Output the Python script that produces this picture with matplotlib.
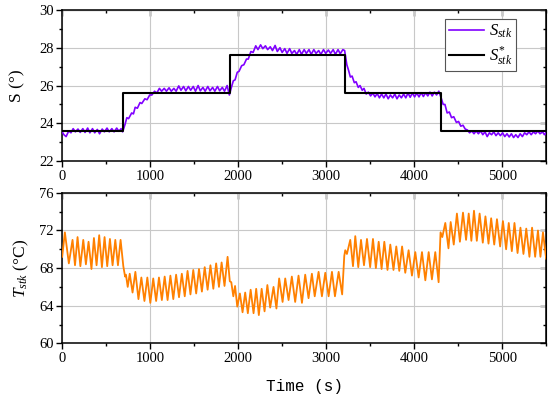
import matplotlib
matplotlib.use("Agg")
import matplotlib.pyplot as plt
from matplotlib.ticker import MultipleLocator

# S_stk response (time in s, angle in deg)
t_s = [0, 20, 45, 75, 100, 125, 150, 180, 205, 235, 260, 290, 315, 345, 370, 400,
       425, 455, 480, 510, 535, 565, 590, 620, 645, 670, 687, 715, 735, 755, 790,
       810, 830, 855, 885, 905, 940, 965, 995, 1020, 1050, 1075, 1105, 1130, 1160,
       1185, 1215, 1240, 1270, 1295, 1325, 1350, 1380, 1405, 1435, 1460, 1490, 1515,
       1545, 1570, 1600, 1625, 1655, 1680, 1710, 1735, 1765, 1790, 1820, 1845, 1875,
       1900, 1920, 1945, 1965, 1990, 2010, 2040, 2065, 2095, 2115, 2145, 2170, 2200,
       2225, 2255, 2280, 2310, 2335, 2365, 2390, 2420, 2445, 2475, 2500, 2530, 2555,
       2585, 2610, 2640, 2665, 2695, 2720, 2750, 2775, 2805, 2830, 2860, 2885, 2915,
       2940, 2970, 2995, 3025, 3050, 3080, 3105, 3135, 3160, 3190, 3210, 3235, 3255,
       3275, 3295, 3320, 3340, 3365, 3385, 3410, 3430, 3455, 3480, 3505, 3530, 3555,
       3580, 3605, 3630, 3655, 3680, 3705, 3730, 3755, 3780, 3805, 3830, 3855, 3880,
       3905, 3930, 3955, 3980, 4005, 4030, 4055, 4080, 4105, 4130, 4155, 4180, 4205,
       4230, 4255, 4280, 4310, 4330, 4350, 4375, 4400, 4425, 4450, 4480, 4505, 4530,
       4555, 4580, 4605, 4630, 4655, 4680, 4705, 4730, 4755, 4780, 4805, 4830, 4855,
       4880, 4905, 4930, 4955, 4980, 5005, 5030, 5055, 5080, 5105, 5130, 5155, 5180,
       5205, 5230, 5255, 5280, 5305, 5330, 5355, 5380, 5405, 5430, 5460, 5480, 5500]
s_stk = [23.55, 23.4, 23.3, 23.6, 23.5, 23.72, 23.55, 23.7, 23.52, 23.72, 23.52, 23.75,
         23.5, 23.72, 23.5, 23.68, 23.45, 23.7, 23.55, 23.75, 23.55, 23.72, 23.55, 23.75,
         23.58, 23.72, 23.55, 23.95, 24.3, 24.25, 24.55, 24.5, 24.85, 24.8, 25.1, 25.05,
         25.3, 25.25, 25.5, 25.5, 25.7, 25.6, 25.85, 25.7, 25.85, 25.7, 25.88, 25.7,
         25.85, 25.7, 25.98, 25.75, 25.95, 25.72, 25.95, 25.75, 25.95, 25.7, 26.0, 25.72,
         25.9, 25.7, 25.95, 25.72, 25.9, 25.7, 25.95, 25.72, 25.9, 25.7, 26.0, 25.5,
         25.85, 26.25, 26.3, 26.7, 26.75, 27.05, 27.1, 27.4, 27.4, 27.8, 27.75, 28.1,
         27.9, 28.15, 27.95, 28.1, 27.9, 28.05, 27.85, 28.12, 27.8, 28.0, 27.75, 27.95,
         27.7, 27.95, 27.7, 27.85, 27.65, 27.9, 27.65, 27.9, 27.7, 27.9, 27.65, 27.9,
         27.7, 27.85, 27.65, 27.9, 27.7, 27.88, 27.7, 27.9, 27.65, 27.9, 27.68, 27.9,
         27.85, 27.1, 26.8, 26.45, 26.5, 26.15, 26.2, 25.9, 26.0, 25.75, 25.85, 25.55,
         25.65, 25.45, 25.6, 25.4, 25.58, 25.35, 25.55, 25.35, 25.55, 25.3, 25.5, 25.35,
         25.55, 25.3, 25.5, 25.35, 25.55, 25.35, 25.6, 25.38, 25.6, 25.4, 25.6, 25.4,
         25.62, 25.42, 25.62, 25.45, 25.65, 25.45, 25.65, 25.5, 25.7, 25.3, 25.0, 25.0,
         24.55, 24.6, 24.3, 24.35, 24.05, 24.1, 23.85, 23.9, 23.7, 23.65, 23.5, 23.6,
         23.45, 23.6, 23.45, 23.6, 23.4, 23.55, 23.3, 23.5, 23.4, 23.55, 23.35, 23.5,
         23.35, 23.5, 23.3, 23.45, 23.28, 23.45, 23.25, 23.4, 23.25, 23.45, 23.3, 23.5,
         23.4, 23.55, 23.4, 23.55, 23.45, 23.6, 23.45, 23.55, 23.4, 23.5]

# set point S*_stk
t_ref = [0, 687, 1909, 3218, 4307, 5500]
s_ref = [23.6, 25.6, 27.6, 25.6, 23.6, 23.6]

# stack temperature T_stk (degC)
t_T = [0, 31, 76, 118, 146, 175, 207, 240, 270, 300, 333, 361, 391, 421, 452, 482,
       512, 543, 573, 604, 634, 664, 695, 715, 725, 745, 768, 800, 832, 867, 900, 935,
       968, 1002, 1035, 1068, 1100, 1133, 1165, 1198, 1230, 1263, 1295, 1328, 1360,
       1393, 1425, 1458, 1490, 1523, 1555, 1588, 1620, 1653, 1685, 1718, 1750, 1782,
       1812, 1845, 1880, 1905, 1922, 1945, 1965, 1990, 2020, 2050, 2080, 2110, 2142,
       2175, 2205, 2235, 2267, 2300, 2332, 2364, 2402, 2435, 2466, 2505, 2535, 2573,
       2610, 2648, 2686, 2725, 2762, 2800, 2838, 2870, 2914, 2952, 2990, 3028, 3066,
       3100, 3142, 3182, 3206, 3217, 3236, 3274, 3305, 3331, 3365, 3396, 3430, 3464,
       3500, 3532, 3565, 3597, 3630, 3661, 3697, 3729, 3765, 3797, 3831, 3863, 3899,
       3937, 3975, 4013, 4051, 4089, 4127, 4165, 4202, 4240, 4278, 4300, 4320, 4354,
       4390, 4415, 4450, 4486, 4520, 4555, 4590, 4620, 4650, 4680, 4712, 4744, 4780,
       4810, 4845, 4875, 4910, 4941, 4977, 5009, 5045, 5075, 5110, 5140, 5175, 5208,
       5242, 5274, 5310, 5340, 5375, 5407, 5435, 5464, 5500]
T_stk = [69.2, 71.8, 68.5, 71.0, 68.3, 71.3, 68.2, 71.0, 68.4, 70.8, 67.9, 71.2, 68.3,
         71.5, 68.1, 71.3, 68.2, 71.1, 68.3, 71.0, 68.3, 71.0, 68.2, 67.1, 67.3, 66.0,
         67.4, 65.4, 67.6, 64.7, 67.0, 64.5, 67.0, 64.3, 66.9, 64.5, 67.0, 64.6, 67.1,
         64.6, 67.2, 64.7, 67.3, 64.9, 67.4, 65.0, 67.7, 65.2, 67.8, 65.3, 67.9, 65.5,
         68.1, 65.7, 68.3, 65.8, 68.5, 66.0, 68.6, 66.1, 69.2, 66.6, 66.5, 65.0, 66.1,
         63.9, 65.3, 63.3, 65.4, 63.2, 65.7, 63.2, 65.8, 63.0, 65.8, 63.4, 66.2, 63.8,
         66.0, 63.7, 66.9, 64.4, 66.9, 64.6, 67.1, 64.4, 67.2, 64.3, 67.3, 64.8, 67.4,
         65.0, 67.6, 65.0, 67.5, 65.0, 67.6, 65.0, 67.6, 65.2, 69.3, 69.9, 69.5, 71.0,
         68.2, 71.4, 68.1, 71.0, 68.3, 71.1, 68.1, 71.1, 68.0, 70.8, 67.9, 70.8, 67.8,
         70.5, 67.8, 70.3, 67.7, 70.3, 67.5, 69.9, 67.2, 69.7, 67.0, 69.7, 66.7, 69.7,
         66.8, 69.7, 66.5, 71.8, 71.3, 72.8, 70.1, 72.9, 70.5, 73.8, 70.8, 73.9, 71.0,
         73.8, 70.9, 74.1, 70.9, 73.8, 70.7, 73.5, 70.6, 73.3, 70.5, 73.2, 70.3, 73.0,
         70.0, 72.8, 69.8, 72.8, 69.6, 72.3, 69.5, 72.2, 69.2, 72.3, 69.2, 72.0, 69.2,
         71.8, 69.0]

plt.rcParams['font.family'] = ['Liberation Serif', 'DejaVu Serif']
plt.rcParams['mathtext.fontset'] = 'custom'
plt.rcParams['mathtext.rm'] = 'Liberation Serif'
plt.rcParams['mathtext.it'] = 'Liberation Serif:italic'
plt.rcParams['font.size'] = 10.5

fig = plt.figure(figsize=(5.5, 3.96), dpi=100)
ax1 = fig.add_axes([0.113, 0.593, 0.880, 0.382])
ax2 = fig.add_axes([0.113, 0.133, 0.880, 0.380])

ax1.plot(t_s, s_stk, color='#8000ff', lw=1.2, label='$S_{stk}$', zorder=3)
ax1.plot(t_ref, s_ref, color='black', lw=1.5, drawstyle='steps-post',
         label='$S^{*}_{stk}$', zorder=4)
ax2.plot(t_T, T_stk, color='#ff8000', lw=1.3, zorder=3)

ax1.set_ylim(22, 30)
ax1.yaxis.set_major_locator(MultipleLocator(2))
ax1.yaxis.set_minor_locator(MultipleLocator(1))
ax1.set_ylabel('S (°)', fontsize=12.5, labelpad=10)

ax2.set_ylim(60, 76)
ax2.yaxis.set_major_locator(MultipleLocator(4))
ax2.yaxis.set_minor_locator(MultipleLocator(2))
ax2.set_ylabel('$T_{stk}$ (°C)', fontsize=12.5, labelpad=6)
ax2.set_xlabel('Time (s)', family='Liberation Mono', fontsize=11.5, labelpad=10)

for ax in (ax1, ax2):
    ax.set_xlim(0, 5500)
    ax.xaxis.set_major_locator(MultipleLocator(1000))
    ax.xaxis.set_minor_locator(MultipleLocator(500))
    ax.grid(True, which='major', color='#c8c8c8', lw=0.8)
    ax.set_axisbelow(True)
    for sp in ax.spines.values():
        sp.set_linewidth(1.1)
    ax.tick_params(which='both', direction='out', top=False, right=False, width=1.0,
                   labelsize=10.5, pad=2)
    ax.tick_params(which='major', length=4)
    ax.tick_params(which='minor', length=2.5)
    sec_x = ax.secondary_xaxis('top')
    sec_x.xaxis.set_major_locator(MultipleLocator(1000))
    sec_x.xaxis.set_minor_locator(MultipleLocator(500))
    sec_x.tick_params(which='both', direction='in', labeltop=False, width=1.0,
                      color='black')
    sec_x.tick_params(which='major', length=4)
    sec_x.tick_params(which='minor', length=2.5)
    sec_y = ax.secondary_yaxis('right')
    sec_y.yaxis.set_major_locator(ax.yaxis.get_major_locator())
    sec_y.yaxis.set_minor_locator(ax.yaxis.get_minor_locator())
    sec_y.tick_params(which='both', direction='in', labelright=False, width=1.0,
                      color='black')
    sec_y.tick_params(which='major', length=4)
    sec_y.tick_params(which='minor', length=2.5)

leg = ax1.legend(loc='upper right', bbox_to_anchor=(0.945, 0.965), fontsize=12,
                 fancybox=False, edgecolor='#555555', framealpha=1,
                 handlelength=2.1, borderpad=0.25, labelspacing=0.25,
                 handletextpad=0.25, borderaxespad=0.2)
leg.get_frame().set_linewidth(0.8)

fig.savefig('out.png', dpi=100)
